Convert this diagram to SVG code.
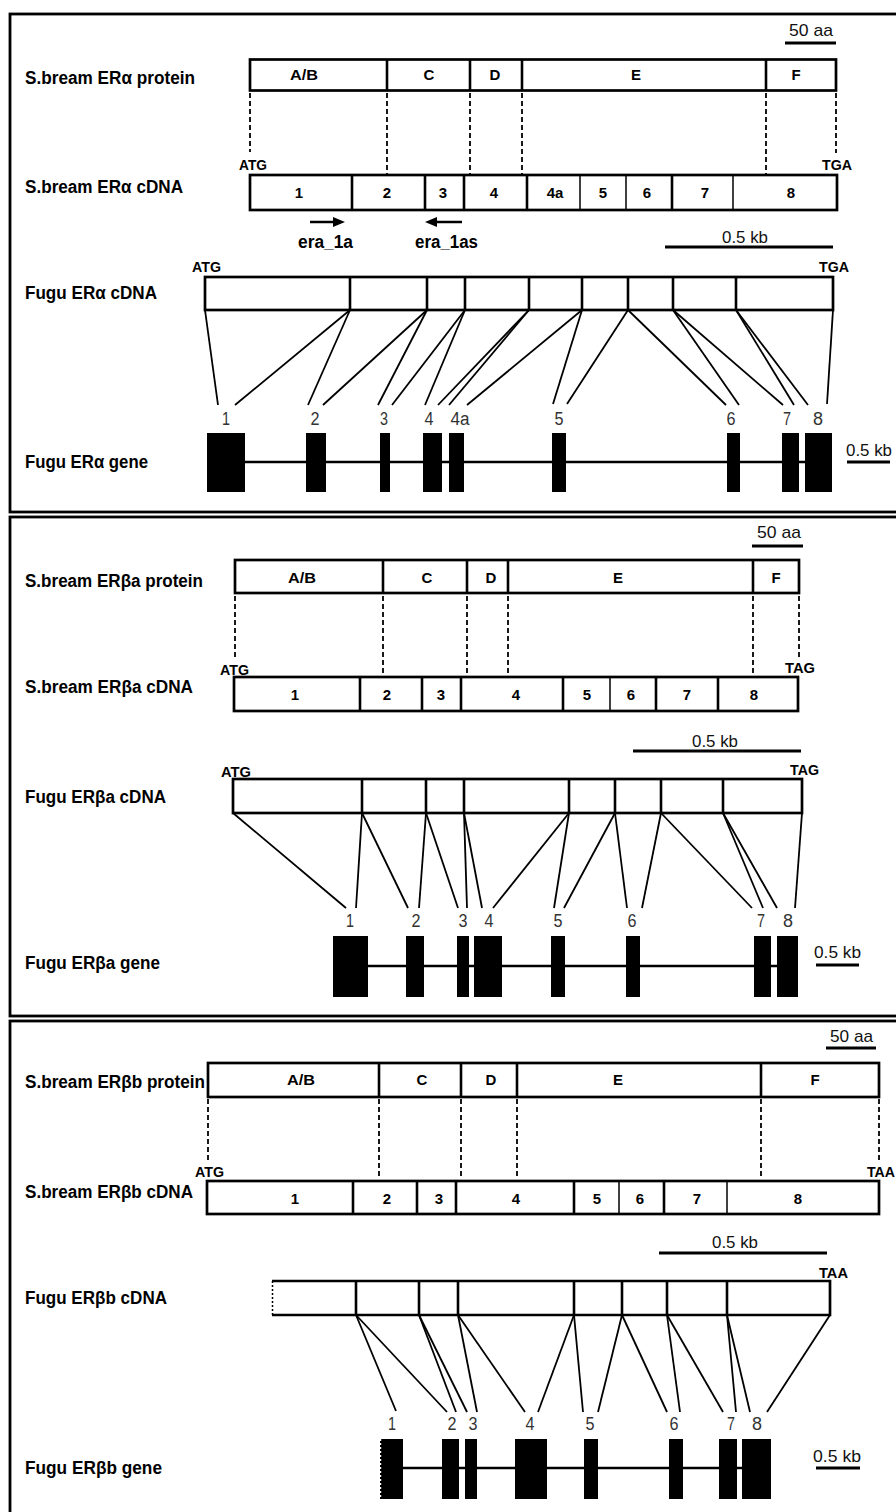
<svg xmlns="http://www.w3.org/2000/svg" width="896" height="1512" viewBox="0 0 896 1512">
<style>
.frame{fill:none;stroke:#000;stroke-width:2.8}
.box{fill:#fff;stroke:#000;stroke-width:2.7}
.dv{stroke:#000;stroke-width:2.6}
.dvt{stroke:#000;stroke-width:1.5}
.dash{stroke:#000;stroke-width:1.8;stroke-dasharray:5 3;fill:none}
.conn{stroke:#000;stroke-width:1.8;fill:none}
.intron{stroke:#000;stroke-width:2.5}
.bar{stroke:#000;stroke-width:3}
.exon{fill:#000}
.lbl{font-family:"Liberation Sans",Arial,sans-serif;font-weight:bold;font-size:18px;fill:#000}
.sm{font-family:"Liberation Sans",Arial,sans-serif;font-weight:bold;font-size:15px;fill:#000;text-anchor:middle}
.cod{font-family:"Liberation Sans",Arial,sans-serif;font-weight:bold;font-size:14px;fill:#000}
.num{font-family:"Liberation Sans",Arial,sans-serif;font-size:18px;fill:#333;text-anchor:middle}
.scl{font-family:"Liberation Sans",Arial,sans-serif;font-size:17px;fill:#111}
</style>

<!-- ================= Panel 1 ================= -->
<g id="panel1">
<rect class="frame" x="10" y="14" width="900" height="498"/>

<g id="p1-protein">
<text class="lbl" x="25" y="84" textLength="170" lengthAdjust="spacingAndGlyphs">S.bream ERα protein</text>
<rect class="box" x="250" y="59.5" width="586" height="31"/>
<line class="dv" x1="387" y1="59.5" x2="387" y2="90.5"/>
<line class="dv" x1="470" y1="59.5" x2="470" y2="90.5"/>
<line class="dv" x1="522" y1="59.5" x2="522" y2="90.5"/>
<line class="dv" x1="766" y1="59.5" x2="766" y2="90.5"/>
<text class="sm" x="304" y="80" textLength="28" lengthAdjust="spacingAndGlyphs">A/B</text>
<text class="sm" x="429" y="80">C</text>
<text class="sm" x="495" y="80">D</text>
<text class="sm" x="636" y="80">E</text>
<text class="sm" x="796" y="80">F</text>
<text class="scl" x="789" y="36" textLength="44" lengthAdjust="spacingAndGlyphs">50 aa</text>
<line class="bar" x1="785" y1="43" x2="836" y2="43"/>
</g>

<g id="p1-sbcdna">
<text class="lbl" x="25" y="193" textLength="158" lengthAdjust="spacingAndGlyphs">S.bream ERα cDNA</text>
<text class="cod" x="239" y="170" textLength="28" lengthAdjust="spacingAndGlyphs">ATG</text>
<text class="cod" x="822" y="170" textLength="30" lengthAdjust="spacingAndGlyphs">TGA</text>
<rect class="box" x="250" y="175" width="587" height="35"/>
<line class="dv" x1="352" y1="175" x2="352" y2="210"/>
<line class="dv" x1="425" y1="175" x2="425" y2="210"/>
<line class="dv" x1="464" y1="175" x2="464" y2="210"/>
<line class="dv" x1="527" y1="175" x2="527" y2="210"/>
<line class="dvt" x1="580" y1="175" x2="580" y2="210"/>
<line class="dvt" x1="626" y1="175" x2="626" y2="210"/>
<line class="dv" x1="672" y1="175" x2="672" y2="210"/>
<line class="dvt" x1="733" y1="175" x2="733" y2="210"/>
<text class="sm" x="299" y="198">1</text>
<text class="sm" x="387" y="198">2</text>
<text class="sm" x="443" y="198">3</text>
<text class="sm" x="494" y="198">4</text>
<text class="sm" x="555" y="198">4a</text>
<text class="sm" x="603" y="198">5</text>
<text class="sm" x="647" y="198">6</text>
<text class="sm" x="705" y="198">7</text>
<text class="sm" x="791" y="198">8</text>
</g>

<g id="p1-primers">
<line stroke="#000" stroke-width="2.5" x1="310" y1="222" x2="336" y2="222"/>
<polygon points="333,217 345,222 333,227" fill="#000"/>
<line stroke="#000" stroke-width="2.5" x1="435" y1="222" x2="462" y2="222"/>
<polygon points="437,217 425,222 437,227" fill="#000"/>
<text class="lbl" x="298" y="248" textLength="55" lengthAdjust="spacingAndGlyphs">era_1a</text>
<text class="lbl" x="415" y="248" textLength="63" lengthAdjust="spacingAndGlyphs">era_1as</text>
</g>

<g id="p1-fugucdna">
<text class="lbl" x="25" y="299" textLength="132" lengthAdjust="spacingAndGlyphs">Fugu ERα cDNA</text>
<text class="scl" x="722" y="243" textLength="46" lengthAdjust="spacingAndGlyphs">0.5 kb</text>
<line class="bar" x1="665" y1="247" x2="833" y2="247"/>
<text class="cod" x="192" y="272" textLength="29" lengthAdjust="spacingAndGlyphs">ATG</text>
<text class="cod" x="819" y="272" textLength="30" lengthAdjust="spacingAndGlyphs">TGA</text>
<rect class="box" x="205" y="277" width="628" height="33"/>
<line class="dv" x1="350" y1="277" x2="350" y2="310"/>
<line class="dv" x1="427" y1="277" x2="427" y2="310"/>
<line class="dv" x1="465" y1="277" x2="465" y2="310"/>
<line class="dv" x1="529" y1="277" x2="529" y2="310"/>
<line class="dv" x1="582" y1="277" x2="582" y2="310"/>
<line class="dv" x1="628" y1="277" x2="628" y2="310"/>
<line class="dv" x1="673" y1="277" x2="673" y2="310"/>
<line class="dv" x1="736" y1="277" x2="736" y2="310"/>
</g>

<g id="p1-gene">
<text class="lbl" x="25" y="468" textLength="123" lengthAdjust="spacingAndGlyphs">Fugu ERα gene</text>
<text class="num" x="226" y="425" textLength="8" lengthAdjust="spacingAndGlyphs">1</text>
<text class="num" x="315" y="425" textLength="9" lengthAdjust="spacingAndGlyphs">2</text>
<text class="num" x="384" y="425" textLength="8" lengthAdjust="spacingAndGlyphs">3</text>
<text class="num" x="429" y="425" textLength="9" lengthAdjust="spacingAndGlyphs">4</text>
<text class="num" x="460" y="425" textLength="19" lengthAdjust="spacingAndGlyphs">4a</text>
<text class="num" x="559" y="425" textLength="9" lengthAdjust="spacingAndGlyphs">5</text>
<text class="num" x="731" y="425" textLength="9" lengthAdjust="spacingAndGlyphs">6</text>
<text class="num" x="787" y="425" textLength="8" lengthAdjust="spacingAndGlyphs">7</text>
<text class="num" x="818" y="425" textLength="10" lengthAdjust="spacingAndGlyphs">8</text>
<line class="intron" x1="245" y1="462" x2="805" y2="462"/>
<rect class="exon" x="207" y="433" width="38" height="59"/>
<rect class="exon" x="306" y="433" width="20" height="59"/>
<rect class="exon" x="380" y="433" width="10" height="59"/>
<rect class="exon" x="423" y="433" width="19" height="59"/>
<rect class="exon" x="449" y="433" width="15" height="59"/>
<rect class="exon" x="552" y="433" width="14" height="59"/>
<rect class="exon" x="727" y="433" width="13" height="59"/>
<rect class="exon" x="782" y="433" width="17" height="59"/>
<rect class="exon" x="805" y="433" width="27" height="59"/>
<text class="scl" x="846" y="456" textLength="46" lengthAdjust="spacingAndGlyphs">0.5 kb</text>
<line class="bar" x1="847" y1="462" x2="890" y2="462"/>
</g>
</g>

<!-- ================= Panel 2 ================= -->
<g id="panel2">
<rect class="frame" x="10" y="517" width="900" height="499"/>

<g id="p2-protein">
<text class="lbl" x="25" y="587" textLength="178" lengthAdjust="spacingAndGlyphs">S.bream ERβa protein</text>
<rect class="box" x="235" y="560" width="564" height="33"/>
<line class="dv" x1="383" y1="560" x2="383" y2="593"/>
<line class="dv" x1="467" y1="560" x2="467" y2="593"/>
<line class="dv" x1="508" y1="560" x2="508" y2="593"/>
<line class="dv" x1="753" y1="560" x2="753" y2="593"/>
<text class="sm" x="302" y="583" textLength="28" lengthAdjust="spacingAndGlyphs">A/B</text>
<text class="sm" x="427" y="583">C</text>
<text class="sm" x="491" y="583">D</text>
<text class="sm" x="618" y="583">E</text>
<text class="sm" x="776" y="583">F</text>
<text class="scl" x="757" y="538" textLength="44" lengthAdjust="spacingAndGlyphs">50 aa</text>
<line class="bar" x1="752" y1="546" x2="803" y2="546"/>
</g>

<g id="p2-sbcdna">
<text class="lbl" x="25" y="693" textLength="168" lengthAdjust="spacingAndGlyphs">S.bream ERβa cDNA</text>
<text class="cod" x="220" y="675" textLength="29" lengthAdjust="spacingAndGlyphs">ATG</text>
<text class="cod" x="785" y="673" textLength="30" lengthAdjust="spacingAndGlyphs">TAG</text>
<rect class="box" x="234" y="677" width="564" height="34"/>
<line class="dv" x1="360" y1="677" x2="360" y2="711"/>
<line class="dv" x1="422" y1="677" x2="422" y2="711"/>
<line class="dv" x1="461" y1="677" x2="461" y2="711"/>
<line class="dv" x1="563" y1="677" x2="563" y2="711"/>
<line class="dvt" x1="610" y1="677" x2="610" y2="711"/>
<line class="dv" x1="656" y1="677" x2="656" y2="711"/>
<line class="dv" x1="718" y1="677" x2="718" y2="711"/>
<text class="sm" x="295" y="700">1</text>
<text class="sm" x="387" y="700">2</text>
<text class="sm" x="441" y="700">3</text>
<text class="sm" x="516" y="700">4</text>
<text class="sm" x="587" y="700">5</text>
<text class="sm" x="631" y="700">6</text>
<text class="sm" x="687" y="700">7</text>
<text class="sm" x="754" y="700">8</text>
</g>

<g id="p2-fugucdna">
<text class="lbl" x="25" y="803" textLength="141" lengthAdjust="spacingAndGlyphs">Fugu ERβa cDNA</text>
<text class="scl" x="692" y="747" textLength="46" lengthAdjust="spacingAndGlyphs">0.5 kb</text>
<line class="bar" x1="633" y1="751" x2="801" y2="751"/>
<text class="cod" x="221" y="777" textLength="30" lengthAdjust="spacingAndGlyphs">ATG</text>
<text class="cod" x="790" y="775" textLength="29" lengthAdjust="spacingAndGlyphs">TAG</text>
<rect class="box" x="233" y="779" width="569" height="34"/>
<line class="dv" x1="362" y1="779" x2="362" y2="813"/>
<line class="dv" x1="426" y1="779" x2="426" y2="813"/>
<line class="dv" x1="464" y1="779" x2="464" y2="813"/>
<line class="dv" x1="569" y1="779" x2="569" y2="813"/>
<line class="dv" x1="615" y1="779" x2="615" y2="813"/>
<line class="dv" x1="661" y1="779" x2="661" y2="813"/>
<line class="dv" x1="723" y1="779" x2="723" y2="813"/>
</g>

<g id="p2-gene">
<text class="lbl" x="25" y="969" textLength="135" lengthAdjust="spacingAndGlyphs">Fugu ERβa gene</text>
<text class="num" x="350" y="927" textLength="8" lengthAdjust="spacingAndGlyphs">1</text>
<text class="num" x="416" y="927" textLength="9" lengthAdjust="spacingAndGlyphs">2</text>
<text class="num" x="463" y="927" textLength="9" lengthAdjust="spacingAndGlyphs">3</text>
<text class="num" x="489" y="927" textLength="9" lengthAdjust="spacingAndGlyphs">4</text>
<text class="num" x="558" y="927" textLength="9" lengthAdjust="spacingAndGlyphs">5</text>
<text class="num" x="632" y="927" textLength="9" lengthAdjust="spacingAndGlyphs">6</text>
<text class="num" x="761" y="927" textLength="8" lengthAdjust="spacingAndGlyphs">7</text>
<text class="num" x="788" y="927" textLength="10" lengthAdjust="spacingAndGlyphs">8</text>
<line class="intron" x1="368" y1="966" x2="777" y2="966"/>
<rect class="exon" x="333" y="936" width="35" height="61"/>
<rect class="exon" x="406" y="936" width="18" height="61"/>
<rect class="exon" x="457" y="936" width="12" height="61"/>
<rect class="exon" x="474" y="936" width="28" height="61"/>
<rect class="exon" x="551" y="936" width="14" height="61"/>
<rect class="exon" x="626" y="936" width="14" height="61"/>
<rect class="exon" x="754" y="936" width="17" height="61"/>
<rect class="exon" x="777" y="936" width="21" height="61"/>
<text class="scl" x="814" y="958" textLength="47" lengthAdjust="spacingAndGlyphs">0.5 kb</text>
<line class="bar" x1="816" y1="965" x2="859" y2="965"/>
</g>
</g>

<!-- ================= Panel 3 ================= -->
<g id="panel3">
<rect class="frame" x="10" y="1021" width="900" height="600"/>

<g id="p3-protein">
<text class="lbl" x="25" y="1088" textLength="180" lengthAdjust="spacingAndGlyphs">S.bream ERβb protein</text>
<rect class="box" x="208" y="1063" width="671" height="34"/>
<line class="dv" x1="379" y1="1063" x2="379" y2="1097"/>
<line class="dv" x1="461" y1="1063" x2="461" y2="1097"/>
<line class="dv" x1="517" y1="1063" x2="517" y2="1097"/>
<line class="dv" x1="761" y1="1063" x2="761" y2="1097"/>
<text class="sm" x="301" y="1085" textLength="28" lengthAdjust="spacingAndGlyphs">A/B</text>
<text class="sm" x="422" y="1085">C</text>
<text class="sm" x="491" y="1085">D</text>
<text class="sm" x="618" y="1085">E</text>
<text class="sm" x="815" y="1085">F</text>
<text class="scl" x="830" y="1042" textLength="43" lengthAdjust="spacingAndGlyphs">50 aa</text>
<line class="bar" x1="826" y1="1048" x2="876" y2="1048"/>
</g>

<g id="p3-sbcdna">
<text class="lbl" x="25" y="1198" textLength="168" lengthAdjust="spacingAndGlyphs">S.bream ERβb cDNA</text>
<text class="cod" x="195" y="1177" textLength="29" lengthAdjust="spacingAndGlyphs">ATG</text>
<text class="cod" x="867" y="1177" textLength="28" lengthAdjust="spacingAndGlyphs">TAA</text>
<rect class="box" x="207" y="1181" width="672" height="33"/>
<line class="dv" x1="353" y1="1181" x2="353" y2="1214"/>
<line class="dv" x1="417" y1="1181" x2="417" y2="1214"/>
<line class="dv" x1="456" y1="1181" x2="456" y2="1214"/>
<line class="dv" x1="574" y1="1181" x2="574" y2="1214"/>
<line class="dvt" x1="619" y1="1181" x2="619" y2="1214"/>
<line class="dv" x1="664" y1="1181" x2="664" y2="1214"/>
<line class="dvt" x1="727" y1="1181" x2="727" y2="1214"/>
<text class="sm" x="295" y="1204">1</text>
<text class="sm" x="387" y="1204">2</text>
<text class="sm" x="439" y="1204">3</text>
<text class="sm" x="516" y="1204">4</text>
<text class="sm" x="597" y="1204">5</text>
<text class="sm" x="640" y="1204">6</text>
<text class="sm" x="697" y="1204">7</text>
<text class="sm" x="798" y="1204">8</text>
</g>

<g id="p3-fugucdna">
<text class="lbl" x="25" y="1304" textLength="142" lengthAdjust="spacingAndGlyphs">Fugu ERβb cDNA</text>
<text class="scl" x="712" y="1248" textLength="46" lengthAdjust="spacingAndGlyphs">0.5 kb</text>
<line class="bar" x1="659" y1="1253" x2="827" y2="1253"/>
<text class="cod" x="819" y="1278" textLength="29" lengthAdjust="spacingAndGlyphs">TAA</text>
<path d="M272,1281 H830 V1315 H272" fill="#fff" stroke="#000" stroke-width="2.7"/>
<line x1="272.5" y1="1281" x2="272.5" y2="1315" stroke="#000" stroke-width="1.5" stroke-dasharray="2 2"/>
<line class="dv" x1="356" y1="1281" x2="356" y2="1315"/>
<line class="dv" x1="419" y1="1281" x2="419" y2="1315"/>
<line class="dv" x1="458" y1="1281" x2="458" y2="1315"/>
<line class="dv" x1="574" y1="1281" x2="574" y2="1315"/>
<line class="dv" x1="622" y1="1281" x2="622" y2="1315"/>
<line class="dv" x1="667" y1="1281" x2="667" y2="1315"/>
<line class="dv" x1="727" y1="1281" x2="727" y2="1315"/>
</g>

<g id="p3-gene">
<text class="lbl" x="25" y="1474" textLength="137" lengthAdjust="spacingAndGlyphs">Fugu ERβb gene</text>
<text class="num" x="392" y="1430" textLength="8" lengthAdjust="spacingAndGlyphs">1</text>
<text class="num" x="452" y="1430" textLength="9" lengthAdjust="spacingAndGlyphs">2</text>
<text class="num" x="473" y="1430" textLength="9" lengthAdjust="spacingAndGlyphs">3</text>
<text class="num" x="530" y="1430" textLength="9" lengthAdjust="spacingAndGlyphs">4</text>
<text class="num" x="590" y="1430" textLength="9" lengthAdjust="spacingAndGlyphs">5</text>
<text class="num" x="674" y="1430" textLength="9" lengthAdjust="spacingAndGlyphs">6</text>
<text class="num" x="731" y="1430" textLength="8" lengthAdjust="spacingAndGlyphs">7</text>
<text class="num" x="757" y="1430" textLength="10" lengthAdjust="spacingAndGlyphs">8</text>
<line class="intron" x1="403" y1="1468" x2="742" y2="1468"/>
<rect class="exon" x="380" y="1439" width="23" height="60"/>
<line x1="380.6" y1="1439" x2="380.6" y2="1499" stroke="#fff" stroke-width="1.2" stroke-dasharray="2 2"/>
<rect class="exon" x="442" y="1439" width="17" height="60"/>
<rect class="exon" x="465" y="1439" width="12" height="60"/>
<rect class="exon" x="515" y="1439" width="32" height="60"/>
<rect class="exon" x="584" y="1439" width="14" height="60"/>
<rect class="exon" x="669" y="1439" width="14" height="60"/>
<rect class="exon" x="719" y="1439" width="18" height="60"/>
<rect class="exon" x="742" y="1439" width="29" height="60"/>
<text class="scl" x="813" y="1462" textLength="48" lengthAdjust="spacingAndGlyphs">0.5 kb</text>
<line class="bar" x1="816" y1="1468" x2="860" y2="1468"/>
</g>
</g>

<!-- ================= Connectors ================= -->
<g id="connectors">
<!-- panel 1 dashed: protein to cDNA -->
<line class="dash" x1="250" y1="93" x2="250" y2="152"/>
<line class="dash" x1="387" y1="93" x2="387" y2="174"/>
<line class="dash" x1="470" y1="93" x2="470" y2="174"/>
<line class="dash" x1="522" y1="93" x2="522" y2="174"/>
<line class="dash" x1="766" y1="93" x2="766" y2="174"/>
<line class="dash" x1="836" y1="93" x2="836" y2="153"/>
<!-- panel 1 cDNA to gene -->
<line class="conn" x1="205" y1="310" x2="218" y2="405"/>
<line class="conn" x1="350" y1="310" x2="235" y2="405"/>
<line class="conn" x1="350" y1="310" x2="308" y2="405"/>
<line class="conn" x1="427" y1="310" x2="323" y2="405"/>
<line class="conn" x1="427" y1="310" x2="378" y2="405"/>
<line class="conn" x1="465" y1="310" x2="392" y2="405"/>
<line class="conn" x1="465" y1="310" x2="425" y2="405"/>
<line class="conn" x1="529" y1="310" x2="438" y2="405"/>
<line class="conn" x1="529" y1="310" x2="449" y2="405"/>
<line class="conn" x1="582" y1="310" x2="467" y2="405"/>
<line class="conn" x1="582" y1="310" x2="553" y2="404"/>
<line class="conn" x1="628" y1="310" x2="567" y2="404"/>
<line class="conn" x1="628" y1="310" x2="726" y2="405"/>
<line class="conn" x1="673" y1="310" x2="739" y2="405"/>
<line class="conn" x1="673" y1="310" x2="783" y2="405"/>
<line class="conn" x1="736" y1="310" x2="794" y2="405"/>
<line class="conn" x1="736" y1="310" x2="808" y2="405"/>
<line class="conn" x1="833" y1="310" x2="827" y2="404"/>

<!-- panel 2 dashed -->
<line class="dash" x1="235" y1="596" x2="235" y2="658"/>
<line class="dash" x1="383" y1="596" x2="383" y2="676"/>
<line class="dash" x1="467" y1="596" x2="467" y2="676"/>
<line class="dash" x1="508" y1="596" x2="508" y2="676"/>
<line class="dash" x1="753" y1="596" x2="753" y2="676"/>
<line class="dash" x1="799" y1="596" x2="799" y2="660"/>
<!-- panel 2 cDNA to gene -->
<line class="conn" x1="233" y1="813" x2="346" y2="908"/>
<line class="conn" x1="362" y1="813" x2="356" y2="908"/>
<line class="conn" x1="362" y1="813" x2="408" y2="908"/>
<line class="conn" x1="426" y1="813" x2="419" y2="908"/>
<line class="conn" x1="426" y1="813" x2="458" y2="908"/>
<line class="conn" x1="464" y1="813" x2="467" y2="908"/>
<line class="conn" x1="464" y1="813" x2="482" y2="908"/>
<line class="conn" x1="569" y1="813" x2="493" y2="908"/>
<line class="conn" x1="569" y1="813" x2="554" y2="908"/>
<line class="conn" x1="615" y1="813" x2="564" y2="908"/>
<line class="conn" x1="615" y1="813" x2="627" y2="908"/>
<line class="conn" x1="661" y1="813" x2="642" y2="908"/>
<line class="conn" x1="661" y1="813" x2="752" y2="908"/>
<line class="conn" x1="723" y1="813" x2="763" y2="908"/>
<line class="conn" x1="723" y1="813" x2="777" y2="908"/>
<line class="conn" x1="802" y1="813" x2="795" y2="908"/>

<!-- panel 3 dashed -->
<line class="dash" x1="208" y1="1099" x2="208" y2="1162"/>
<line class="dash" x1="379" y1="1099" x2="379" y2="1178"/>
<line class="dash" x1="461" y1="1099" x2="461" y2="1178"/>
<line class="dash" x1="517" y1="1099" x2="517" y2="1178"/>
<line class="dash" x1="761" y1="1099" x2="761" y2="1178"/>
<line class="dash" x1="879" y1="1099" x2="879" y2="1162"/>
<!-- panel 3 cDNA to gene -->
<line class="conn" x1="356" y1="1315" x2="396" y2="1411"/>
<line class="conn" x1="356" y1="1315" x2="447" y2="1412"/>
<line class="conn" x1="419" y1="1315" x2="456" y2="1412"/>
<line class="conn" x1="419" y1="1315" x2="467" y2="1412"/>
<line class="conn" x1="458" y1="1315" x2="477" y2="1412"/>
<line class="conn" x1="458" y1="1315" x2="525" y2="1412"/>
<line class="conn" x1="574" y1="1315" x2="538" y2="1412"/>
<line class="conn" x1="574" y1="1315" x2="583" y2="1412"/>
<line class="conn" x1="622" y1="1315" x2="598" y2="1412"/>
<line class="conn" x1="622" y1="1315" x2="667" y2="1412"/>
<line class="conn" x1="667" y1="1315" x2="680" y2="1412"/>
<line class="conn" x1="667" y1="1315" x2="723" y2="1412"/>
<line class="conn" x1="727" y1="1315" x2="736" y2="1412"/>
<line class="conn" x1="727" y1="1315" x2="750" y2="1412"/>
<line class="conn" x1="830" y1="1315" x2="767" y2="1412"/>
</g>
</svg>
